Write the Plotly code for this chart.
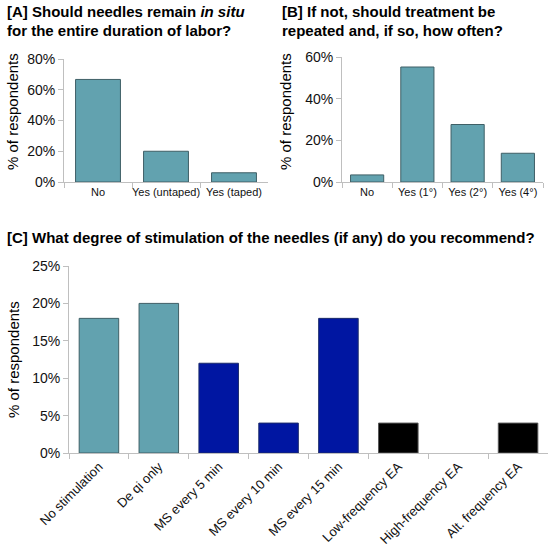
import plotly.graph_objects as go

# ---- data ----
cats_a = ["No", "Yes (untaped)", "Yes (taped)"]
vals_a = [66.7, 20.0, 6.0]

cats_b = ["No", "Yes (1°)", "Yes (2°)", "Yes (4°)"]
vals_b = [3.4, 55.2, 27.6, 13.8]

cats_c = ["No stimulation", "De qi only", "MS every 5 min", "MS every 10 min",
          "MS every 15 min", "Low-frequency EA", "High-frequency EA", "Alt. frequency EA"]
vals_c = [18, 20, 12, 4, 18, 4, 0, 4]
groups_c = ["teal", "teal", "blue", "blue", "blue", "black", "black", "black"]

TEAL = "#62a2af"
TEAL_LINE = "#3f5f66"
BLUE = "#0016a2"
BLACK = "#000000"
color_map = {"teal": TEAL, "blue": BLUE, "black": BLACK}
line_map = {"teal": TEAL_LINE, "blue": "#1a2a6a", "black": "#555555"}

W, H = 550, 556
FONT = "Liberation Sans, Arial, sans-serif"

def px_x(x):
    return x / W

def px_y(y):
    return 1 - y / H

fig = go.Figure()

fig.add_trace(go.Bar(x=cats_a, y=vals_a, xaxis="x", yaxis="y",
                     marker=dict(color=TEAL, line=dict(color=TEAL_LINE, width=1)),
                     showlegend=False, hoverinfo="skip"))
fig.add_trace(go.Bar(x=cats_b, y=vals_b, xaxis="x2", yaxis="y2",
                     marker=dict(color=TEAL, line=dict(color=TEAL_LINE, width=1)),
                     showlegend=False, hoverinfo="skip"))
fig.add_trace(go.Bar(x=cats_c, y=vals_c, xaxis="x3", yaxis="y3",
                     marker=dict(color=[color_map[g] for g in groups_c],
                                 line=dict(color=[line_map[g] for g in groups_c],
                                           width=[1 if v > 0 else 0 for v in vals_c])),
                     showlegend=False, hoverinfo="skip"))

AXLINE = "#bfbfbf"

def xax(domain, anchor, size, angle=0):
    return dict(domain=domain, anchor=anchor, showline=True, linecolor=AXLINE, linewidth=1,
                ticks="outside", tickson="boundaries", ticklen=5, tickcolor=AXLINE,
                showgrid=False, zeroline=False, fixedrange=True, automargin=False,
                tickangle=angle,
                tickfont=dict(family=FONT, size=size, color="#111111"))

def yax(domain, anchor, rng, dtick):
    return dict(domain=domain, anchor=anchor, range=rng, dtick=dtick, ticksuffix="%",
                showline=True, linecolor=AXLINE, linewidth=1, ticks="outside", ticklen=5,
                tickcolor=AXLINE, showgrid=False, zeroline=False, fixedrange=True,
                automargin=False,
                tickfont=dict(family=FONT, size=14, color="#111111"))

fig.update_layout(
    width=W, height=H,
    margin=dict(l=0, r=0, t=0, b=0, autoexpand=False),
    paper_bgcolor="white", plot_bgcolor="white",
    bargap=0.34,
    xaxis=xax([px_x(64), px_x(268)], "y", 11),
    yaxis=yax([px_y(182), px_y(59)], "x", [0, 80], 20),
    xaxis2=xax([px_x(342), px_x(543)], "y2", 11),
    yaxis2=yax([px_y(182), px_y(57)], "x2", [0, 60], 20),
    xaxis3=xax([px_x(69), px_x(548)], "y3", 13, -45),
    yaxis3=yax([px_y(453), px_y(266)], "x3", [0, 25], 5),
)

def title(text, x, y):
    fig.add_annotation(text=text, xref="paper", yref="paper", x=px_x(x), y=px_y(y),
                       xanchor="left", yanchor="middle", showarrow=False,
                       font=dict(family=FONT, size=15, color="black"))

title("<b>[A] Should needles remain <i>in situ</i></b>", 5, 12)
title("<b>for the entire duration of labor?</b>", 5, 30)
title("<b>[B] If not, should treatment be</b>", 280, 12)
title("<b>repeated and, if so, how often?</b>", 280, 30)
title("<b>[C] What degree of stimulation of the needles (if any) do you recommend?</b>", 5, 237)

def ytitle(x, y):
    fig.add_annotation(text="% of respondents", xref="paper", yref="paper",
                       x=px_x(x), y=px_y(y), xanchor="center", yanchor="middle",
                       textangle=-90, showarrow=False,
                       font=dict(family=FONT, size=15, color="black"))

ytitle(13, 112)
ytitle(286, 112)
ytitle(13, 360)

# remove the default 8px body margin so the figure fills the window exactly
fig.write_html("out.html",
               config={"displayModeBar": False, "staticPlot": True},
               post_script="document.body.style.margin='0';document.body.style.overflow='hidden';")
